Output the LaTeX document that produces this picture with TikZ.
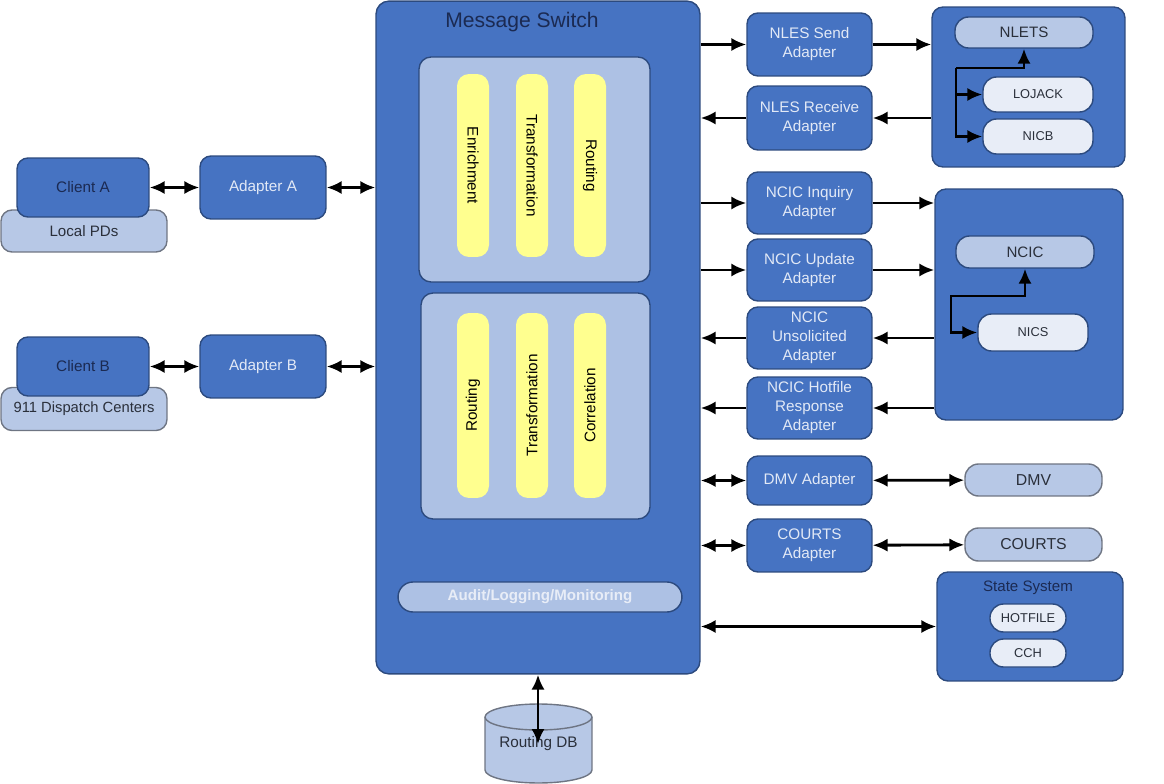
\documentclass[tikz,border=0pt]{standalone}
\usepackage{fontspec}
\setmainfont{Liberation Sans}
\usetikzlibrary{arrows.meta}

\definecolor{swblue}{HTML}{4673C2}
\definecolor{swedge}{HTML}{2C4A7E}
\definecolor{swpanel}{HTML}{ADC1E4}
\definecolor{swpale}{HTML}{B7C8E6}
\definecolor{swwhite}{HTML}{E8EDF7}
\definecolor{swyellow}{HTML}{FFFF8F}
\definecolor{swlabel}{HTML}{E2E9F6}
\definecolor{swnavy}{HTML}{1B2A52}
\definecolor{swgray}{HTML}{6E7583}
\definecolor{swink}{HTML}{2A2F3A}

\tikzset{
  box/.style={draw=swedge, fill=swblue, line width=0.8pt, rounded corners=0.22cm,
    align=center, inner sep=1pt, text=swlabel, font=\fontsize{8.7}{10.8}\selectfont},
  panel/.style={draw=swedge, fill=swpanel, line width=0.8pt, rounded corners=0.24cm},
  stage/.style={fill=swyellow, rounded corners=0.24cm, minimum height=0.64cm,
    text=black, font=\fontsize{8.7}{10}\selectfont},
  pill/.style={draw=swedge, line width=0.8pt, rounded corners=0.27cm, text=swink,
    font=\fontsize{8.6}{10}\selectfont},
  smallpill/.style={pill, fill=swwhite, font=\fontsize{7.3}{9}\selectfont},
  outpill/.style={pill, draw=swgray, fill=swpale, font=\fontsize{9}{10}\selectfont},
  wire/.style={line width=1.6pt, black},
}

\begin{document}
\begin{tikzpicture}[x=0.02cm, y=-0.02cm, >={Latex[length=8.5pt,width=7.5pt]}]
  \useasboundingbox (0,0) rectangle (1164,784);

  % Clients on the left
  \node[outpill, draw=swgray, rounded corners=0.22cm, font=\fontsize{8.6}{10}\selectfont,
    minimum width=3.32cm, minimum height=0.84cm] (localA) at (84,231) {Local PDs};
  \node[box, text=swnavy, minimum width=2.64cm, minimum height=1.18cm] (clientA) at (83,187.5) {Client A};
  \node[box, minimum width=2.52cm, minimum height=1.26cm] (adapterA) at (263,187.5) {Adapter A};

  \node[outpill, draw=swgray, rounded corners=0.22cm, font=\fontsize{8.4}{10}\selectfont,
    minimum width=3.32cm, minimum height=0.86cm] (localB) at (84,409) {911 Dispatch Centers};
  \node[box, text=swnavy, minimum width=2.64cm, minimum height=1.18cm] (clientB) at (83,366.5) {Client B};
  \node[box, minimum width=2.52cm, minimum height=1.26cm] (adapterB) at (263,366.5) {Adapter B};

  % Message switch
  \node[box, minimum width=6.48cm, minimum height=13.46cm, rounded corners=0.26cm] (switch) at (538,337.5) {};
  \node[text=swnavy, font=\fontsize{12}{14}\selectfont] (title) at (522,22) {Message Switch};

  \node[panel, minimum width=4.62cm, minimum height=4.5cm] (inbound) at (534.5,169.5) {};
  \node[stage, rotate=-90, minimum width=3.66cm] (enrich) at (473,165.5) {Enrichment};
  \node[stage, rotate=-90, minimum width=3.66cm] (transIn) at (532,165.5) {Transformation};
  \node[stage, rotate=-90, minimum width=3.66cm] (routeIn) at (590,165.5) {Routing};

  \node[panel, minimum width=4.58cm, minimum height=4.52cm] (outbound) at (535.5,406) {};
  \node[stage, rotate=90, minimum width=3.7cm] (routeOut) at (473,405.5) {Routing};
  \node[stage, rotate=90, minimum width=3.7cm] (transOut) at (532,405.5) {Transformation};
  \node[stage, rotate=90, minimum width=3.7cm] (correl) at (590,405.5) {Correlation};

  \node[pill, fill=swpanel, text=swwhite, rounded corners=0.3cm, minimum width=5.68cm, minimum height=0.6cm,
    font=\fontsize{8.6}{10}\selectfont\bfseries] (audit) at (540,597) {Audit/Logging/Monitoring};

  % Routing DB
  \filldraw[fill=swpale, draw=swgray, line width=0.8pt] (485,717) -- (485,770)
    arc[start angle=180, end angle=360, x radius=1.07cm, y radius=0.26cm] -- (592,717)
    arc[start angle=0, end angle=180, x radius=1.07cm, y radius=0.26cm] -- cycle;
  \draw[swgray, line width=0.8pt] (485,717) arc[start angle=180, end angle=360, x radius=1.07cm, y radius=0.26cm];
  \node[text=swink, font=\fontsize{8.7}{10}\selectfont] (db) at (538.5,744) {Routing DB};

  % Adapters on the right
  \node[box, minimum width=2.5cm, minimum height=1.26cm] (nlesSend) at (809.5,44.5) {NLES Send\\Adapter};
  \node[box, minimum width=2.5cm, minimum height=1.28cm] (nlesRecv) at (809.5,118) {NLES Receive\\Adapter};
  \node[box, minimum width=2.5cm, minimum height=1.24cm] (ncicInq) at (809.5,203) {NCIC Inquiry\\Adapter};
  \node[box, minimum width=2.5cm, minimum height=1.24cm] (ncicUpd) at (809.5,270) {NCIC Update\\Adapter};
  \node[box, minimum width=2.5cm, minimum height=1.24cm] (ncicUns) at (809.5,338) {NCIC\\Unsolicited\\Adapter};
  \node[box, minimum width=2.5cm, minimum height=1.24cm] (ncicHot) at (809.5,408) {NCIC Hotfile\\Response\\Adapter};
  \node[box, minimum width=2.5cm, minimum height=0.98cm] (dmvAd) at (809.5,480.5) {DMV Adapter};
  \node[box, minimum width=2.5cm, minimum height=1.06cm] (courtsAd) at (809.5,545.5) {COURTS\\Adapter};

  % External systems
  \node[box, minimum width=3.86cm, minimum height=3.2cm] (nletsGrp) at (1028.5,87) {};
  \node[pill, fill=swpale, minimum width=2.76cm, minimum height=0.62cm] (nlets) at (1024,32.5) {NLETS};
  \node[smallpill, minimum width=2.2cm, minimum height=0.7cm] (lojack) at (1038,94.5) {LOJACK};
  \node[smallpill, minimum width=2.2cm, minimum height=0.7cm] (nicb) at (1038,136.5) {NICB};
  \coordinate (nlJ) at (956,68);

  \node[box, minimum width=3.76cm, minimum height=4.62cm] (ncicGrp) at (1029,304.5) {};
  \node[pill, fill=swpale, minimum width=2.76cm, minimum height=0.64cm] (ncic) at (1025,252) {NCIC};
  \node[smallpill, minimum width=2.2cm, minimum height=0.74cm] (nics) at (1033,332.5) {NICS};
  \coordinate (ncJ) at (951,296);

  \node[outpill, minimum width=2.74cm, minimum height=0.64cm] (dmv) at (1033.5,480) {DMV};
  \node[outpill, minimum width=2.74cm, minimum height=0.66cm] (courts) at (1033.5,544.5) {COURTS};

  \node[box, minimum width=3.72cm, minimum height=2.18cm] (stateGrp) at (1030,626.5) {};
  \node[text=swnavy, font=\fontsize{8.6}{10}\selectfont] (stateTitle) at (1028,588) {State System};
  \node[smallpill, minimum width=1.52cm, minimum height=0.56cm] (hotfile) at (1028,618) {HOTFILE};
  \node[smallpill, minimum width=1.52cm, minimum height=0.56cm] (cch) at (1028,653) {CCH};

  % Connectors
  \draw[wire, <->] (clientA) -- (adapterA);
  \draw[wire, <->] (adapterA) -- (adapterA -| switch.west);
  \draw[wire, <->] (clientB) -- (adapterB);
  \draw[wire, <->] (adapterB) -- (adapterB -| switch.west);
  \draw[wire, <->] (switch.south) -- (switch.south |- db.center);

  \draw[wire, ->] (switch.east |- nlesSend) -- (nlesSend);
  \draw[wire, ->] (nlesSend) -- (nlesSend -| nletsGrp.west);
  \draw[wire, <-] (switch.east |- nlesRecv) -- (nlesRecv);
  \draw[wire, <-] (nlesRecv) -- (nlesRecv -| nletsGrp.west);
  \draw[wire, ->] (switch.east |- ncicInq) -- (ncicInq);
  \draw[wire, ->] (ncicInq) -- (ncicInq -| ncicGrp.west);
  \draw[wire, ->] (switch.east |- ncicUpd) -- (ncicUpd);
  \draw[wire, ->] (ncicUpd) -- (ncicUpd -| ncicGrp.west);
  \draw[wire, <-] (switch.east |- ncicUns) -- (ncicUns);
  \draw[wire, <-] (ncicUns) -- (ncicUns -| ncicGrp.west);
  \draw[wire, <-] (switch.east |- ncicHot) -- (ncicHot);
  \draw[wire, <-] (ncicHot) -- (ncicHot -| ncicGrp.west);
  \draw[wire, <->] (switch.east |- dmvAd) -- (dmvAd);
  \draw[wire, <->] (dmvAd) -- (dmv);
  \draw[wire, <->] (switch.east |- courtsAd) -- (courtsAd);
  \draw[wire, <->] (courtsAd) -- (courts);
  \draw[wire, <->] (switch.east |- stateGrp) -- (stateGrp);

  % Inside NLETS and NCIC
  \draw[wire, ->] (nlJ) -| (nlets.south);
  \draw[wire, ->] (nlJ |- lojack.west) -- (lojack.west);
  \draw[wire, ->] (nlJ) |- (nicb.west);
  \draw[wire, <->] (ncic.south) |- (ncJ) |- (nics.west);
\end{tikzpicture}
\end{document}
